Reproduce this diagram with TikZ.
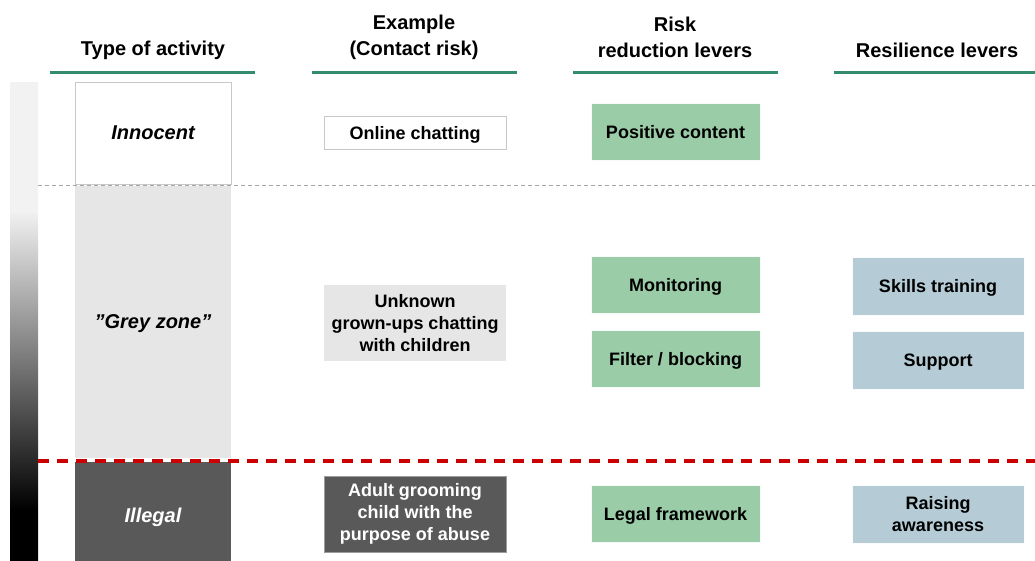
\documentclass[tikz,border=0pt]{standalone}
\usepackage{fontspec}
\setmainfont{Liberation Sans}
\definecolor{hdrgreen}{RGB}{52,140,110}
\definecolor{lvgreen}{RGB}{155,204,168}
\definecolor{lvblue}{RGB}{181,204,214}
\definecolor{zonegrey}{RGB}{230,230,230}
\definecolor{darkgrey}{RGB}{89,89,89}
\definecolor{edgegrey}{RGB}{200,200,200}
\definecolor{redline}{RGB}{204,0,0}
\pgfdeclareverticalshading{barshade}{100bp}{color(0bp)=(black); color(30.2bp)=(black); color(61.6bp)=(white!95!black); color(100bp)=(white!95!black)}
\begin{document}
\begin{tikzpicture}[x=1pt,y=-1pt,
  hdr/.style={font=\fontsize{20}{26}\selectfont\bfseries, align=center, text=black},
  hline/.style={draw=hdrgreen, line width=3pt},
  txt/.style={font=\fontsize{18}{22}\selectfont\bfseries, align=center, inner sep=0pt},
  sl/.style={text depth=0pt},
  cat/.style={font=\fontsize{20}{24}\selectfont\bfseries\itshape, align=center, inner sep=0pt, text depth=0pt},
  lvg/.style={txt, fill=lvgreen, draw=white!92!lvgreen, line width=0.8pt, minimum width=169pt, minimum height=57pt},
  lvb/.style={txt, fill=lvblue, draw=white!92!lvblue, line width=0.8pt, minimum width=172pt, minimum height=58pt},
  exbox/.style={txt, minimum width=182pt}
]
\useasboundingbox (0,0) rectangle (1035,560);
% headers
\node[hdr] (h1) at (153,50) {Type of activity};
\node[hdr] (h2) at (414,37) {Example\\(Contact risk)};
\node[hdr] (h3) at (675,37) {Risk\\reduction levers};
\node[hdr] (h4) at (937,50) {Resilience levers};
\draw[hline] (50,72) -- (255,72);
\draw[hline] (312,72) -- (517,72);
\draw[hline] (573,72) -- (778,72);
\draw[hline] (834,72) -- (1035,72);
% gradient bar
\shade[shading=barshade] (10,82) rectangle (38,560);
% category boxes
\node[cat, draw=edgegrey, fill=white, line width=0.8pt, minimum width=156pt, minimum height=102pt] (inn) at (153,133) {Innocent};
\node[cat, fill=zonegrey, minimum width=156pt, minimum height=272pt] (grey) at (153,322) {\char"22 Grey zone\char"22};
\node[cat, fill=darkgrey, text=white, minimum width=156pt, minimum height=106pt] (ill) at (153,515) {Illegal};
% separators
\draw[draw=white!65!black, line width=0.8pt, dash pattern=on 4pt off 3pt] (38,185) -- (1035,185);
\draw[draw=redline, line width=3.5pt, dash pattern=on 11pt off 8pt] (38,461) -- (1035,461);
% examples
\node[exbox, sl, draw=edgegrey, fill=white, line width=0.8pt, minimum height=33pt] (ex1) at (415,132.5) {Online chatting};
\node[exbox, fill=zonegrey, minimum height=76pt] (ex2) at (415,323) {Unknown\\grown-ups chatting\\with children};
\node[exbox, fill=darkgrey, draw=edgegrey!60!darkgrey, text=white, minimum height=76pt] (ex3) at (415,514) {Adult grooming\\child with the\\purpose of abuse};
% risk reduction levers
\node[lvg, sl] (r1) at (675.5,131.5) {Positive content};
\node[lvg, sl] (r2) at (675.5,285) {Monitoring};
\node[lvg, sl] (r3) at (675.5,359) {Filter / blocking};
\node[lvg, sl] (r4) at (675.5,513.5) {Legal framework};
% resilience levers
\node[lvb, sl] (s1) at (938,286) {Skills training};
\node[lvb, sl] (s2) at (938,360) {Support};
\node[lvb] (s3) at (938,514) {Raising\\awareness};
\end{tikzpicture}
\end{document}
